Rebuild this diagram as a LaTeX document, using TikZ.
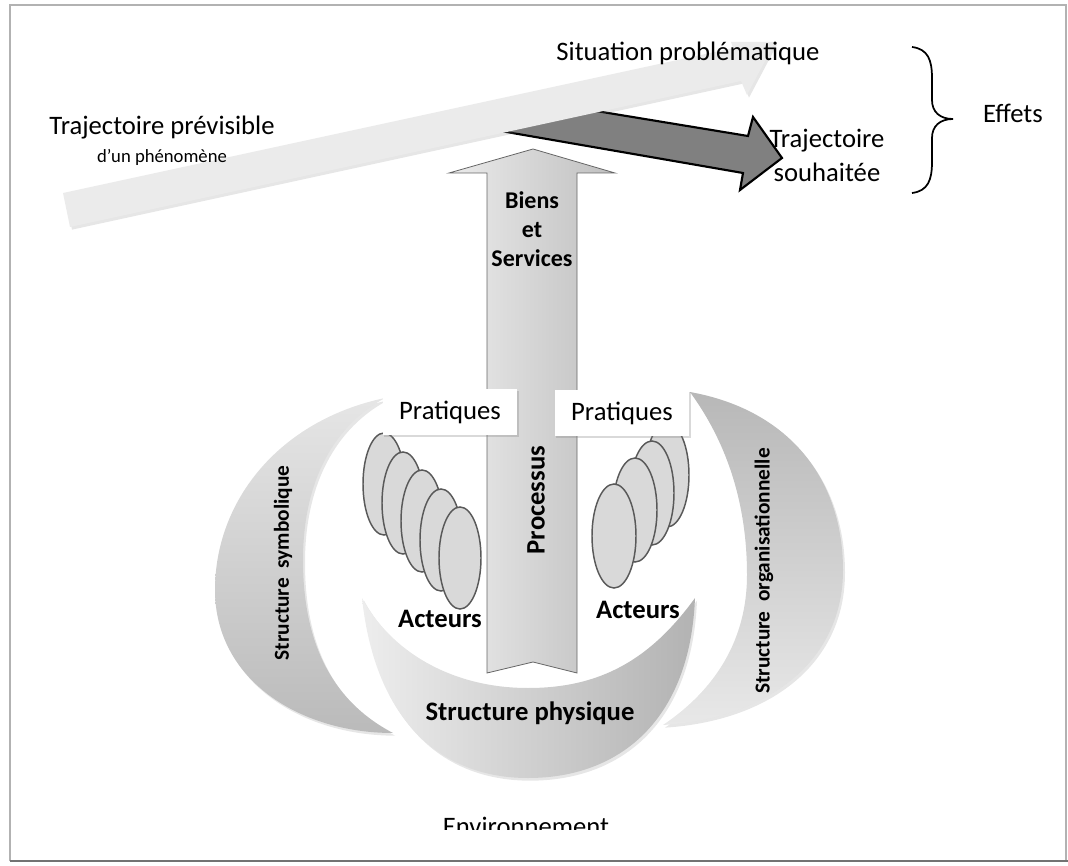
\documentclass[tikz,border=0pt]{standalone}
\usepackage{fontspec}
\setmainfont{Carlito}
\usetikzlibrary{shadows}

\begin{document}
\begin{tikzpicture}[x=0.75pt,y=-0.75pt,
  txt/.style={font=\fontsize{20}{25.5}\selectfont, inner sep=0pt, align=center},
  txtbold/.style={font=\fontsize{20}{24}\selectfont\bfseries, inner sep=0pt},
  sidetxt/.style={font=\fontsize{16}{19}\selectfont\bfseries, rotate=90, inner sep=0pt},
  actor/.style={draw=black!65, line width=1.1pt, fill=black!15},
  practice/.style={txt, fill=white, minimum width=101pt, minimum height=35pt,
    drop shadow={opacity=0.3, shadow xshift=1pt, shadow yshift=-1.5pt}},
  softshadow/.style={drop shadow={opacity=0.2, shadow xshift=1.5pt, shadow yshift=-2pt}}]

\useasboundingbox (0,0) rectangle (1068,866);

% Frame
\draw[black!30, line width=0.8pt] (10,861) -- (10,5) -- (1066,5) -- (1066,861);
\draw[black!55, line width=2pt] (10,861) -- (1068,861);

% Desired trajectory (under the foreseeable one)
\draw[line width=1.6pt, fill=black!50, line join=miter]
  (495,130) -- (590,110) -- (748,136) -- (753,117) -- (782,158) -- (740,190) -- (743,173) -- cycle;

% Foreseeable trajectory
\fill[black!8, softshadow]
  (63,193) -- (733,48) -- (731,42) -- (775,42) -- (747,95) -- (741,81) -- (70,227) -- cycle;

\node[txt] (prev) at (162,128) {Trajectoire prévisible};
\node[font=\fontsize{14}{17}\selectfont, inner sep=0pt] (phen) at (162,157) {d’un phénomène};
\node[txt] (situ) at (688,53) {Situation problématique};
\node[txt] (souh) at (827,155) {Trajectoire\\souhaitée};

% Brace
\draw[line width=1.3pt] (912,47) .. controls (928,49) and (932,60) .. (932,78) -- (932,100)
  .. controls (932,112) and (940,119) .. (953,119)
  .. controls (940,119) and (932,126) .. (932,138) -- (932,162)
  .. controls (932,180) and (928,191) .. (912,193);
\node[txt] (effets) at (1013,113) {Effets};

% Symbolic structure
\shade[top color=black!10, bottom color=black!27, softshadow]
  (385,398) .. controls (280,420) and (215,500) .. (215,590)
  .. controls (215,680) and (300,733) .. (393,733)
  .. controls (330,700) and (303,640) .. (303,560)
  .. controls (303,480) and (335,425) .. (385,398) -- cycle;
\node[sidetxt] (symb) at (283,563) {Structure\ \ symbolique};

% Organisational structure
\shade[top color=black!28, bottom color=black!9, softshadow]
  (690,392) .. controls (790,410) and (843,480) .. (843,570)
  .. controls (843,660) and (770,718) .. (663,725)
  .. controls (715,690) and (747,640) .. (747,575)
  .. controls (747,500) and (725,440) .. (690,392) -- cycle;
\node[sidetxt] (orga) at (764,571) {Structure\ \ organisationnelle};

% Physical structure
\shade[left color=black!7, right color=black!30, softshadow]
  (362,598) .. controls (375,720) and (440,778) .. (528,778)
  .. controls (620,778) and (690,720) .. (695,598)
  .. controls (650,660) and (600,688) .. (528,688)
  .. controls (450,688) and (390,650) .. (362,598) -- cycle;
\node[txtbold] (phys) at (530,713) {Structure physique};

% Process arrow
\shade[left color=black!8, right color=black!25, draw=black!60, line width=0.6pt]
  (533,149) -- (615,173) -- (577,173) -- (577,673) -- (533,662) -- (487,673)
  -- (487,173) -- (449,173) -- cycle;
\node[font=\fontsize{18}{21.75}\selectfont\bfseries, inner sep=0pt, align=center] (biens) at (532,229) {Biens\\et\\Services};
\node[txtbold, rotate=90] (proc) at (536,500) {Processus};

% Actors
\foreach \cx/\cy in {384/484, 403/503, 422/521, 441/540, 460/558}
  \draw[actor] (\cx,\cy) ellipse [x radius=21, y radius=51];
\foreach \cx/\cy in {667/475, 652/493, 635/510, 614/536}
  \draw[actor] (\cx,\cy) ellipse [x radius=22, y radius=52];
\node[txtbold] (actg) at (440,619) {Acteurs};
\node[txtbold] (actd) at (638,610) {Acteurs};

% Practices
\node[practice] (pratg) at (450,412) {Pratiques};
\node[practice] (pratd) at (622,413) {Pratiques};

% Environment (cut at the bottom)
\begin{scope}
  \clip (300,790) rectangle (760,829);
  \node[txt, anchor=base] (env) at (526,835) {Environnement};
\end{scope}

\end{tikzpicture}
\end{document}
